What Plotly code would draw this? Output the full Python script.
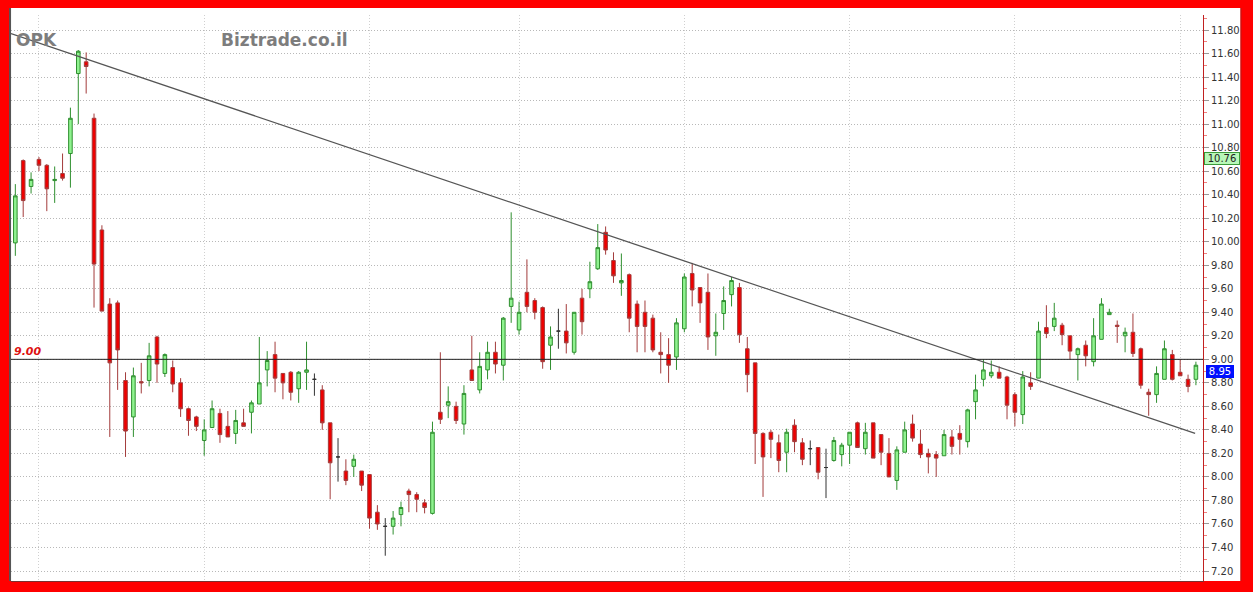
import plotly.graph_objects as go

# ---- data (daily OHLC) ----
opens = [9.99,10.69,10.47,10.70,10.65,10.52,10.58,10.75,11.43,11.53,
         11.05,10.10,9.47,9.48,8.82,8.51,8.81,8.82,9.19,8.88,
         8.93,8.80,8.58,8.51,8.31,8.42,8.54,8.43,8.37,8.46,
         8.55,8.62,8.91,9.04,8.88,8.89,8.75,8.89,8.83,8.74,
         8.46,8.17,8.05,8.09,8.05,8.02,7.70,7.58,7.58,7.68,
         7.88,7.85,7.78,7.69,8.55,8.61,8.60,8.45,8.91,8.74,
         8.91,9.06,8.95,9.45,9.25,9.57,9.50,9.44,9.12,9.24,
         9.24,9.06,9.52,9.60,9.77,10.08,9.84,9.65,9.72,9.47,
         9.40,9.35,9.06,9.04,9.02,9.26,9.73,9.61,9.57,9.20,
         9.39,9.55,9.61,9.09,8.97,8.37,8.38,8.29,8.21,8.44,
         8.29,8.24,8.25,8.08,8.14,8.19,8.27,8.46,8.24,8.46,
         8.36,8.20,7.97,8.21,8.45,8.28,8.20,8.19,8.18,8.34,
         8.37,8.30,8.64,8.83,8.86,8.89,8.85,8.70,8.53,8.80,
         8.84,9.27,9.28,9.29,9.20,9.04,9.12,8.98,9.17,9.38,
         9.29,9.20,9.23,9.09,8.72,8.70,8.83,9.04,8.89,8.83,
         8.83]
highs = [10.49,10.70,10.59,10.72,10.66,10.64,10.75,11.14,11.63,11.61,
         11.09,10.14,9.52,9.50,8.89,8.93,8.97,9.14,9.20,9.05,
         8.99,8.84,8.59,8.52,8.49,8.65,8.58,8.56,8.57,8.58,
         8.65,9.19,9.07,9.15,8.88,8.90,8.90,9.15,8.88,8.78,
         8.46,8.33,8.15,8.19,8.05,8.02,7.76,7.65,7.71,7.79,
         7.90,7.87,7.81,8.47,9.06,8.77,8.64,8.78,9.20,9.06,
         9.15,9.15,9.36,10.25,9.49,9.85,9.52,9.45,9.28,9.43,
         9.47,9.40,9.60,9.83,10.15,10.13,9.91,9.90,9.73,9.50,
         9.50,9.38,9.23,9.18,9.35,9.73,9.82,9.61,9.73,9.39,
         9.62,9.70,9.65,9.19,8.97,8.38,8.40,8.36,8.41,8.49,
         8.33,8.31,8.25,8.24,8.34,8.29,8.38,8.47,8.46,8.46,
         8.36,8.33,8.26,8.47,8.53,8.40,8.24,8.22,8.40,8.40,
         8.44,8.58,8.87,9.00,8.99,8.94,8.86,8.72,8.90,8.89,
         9.32,9.46,9.48,9.31,9.20,9.10,9.16,9.35,9.52,9.43,
         9.33,9.27,9.39,9.10,8.75,8.94,9.16,9.08,9.00,8.87,
         8.98]
lows = [9.88,10.21,10.41,10.60,10.26,10.33,10.52,10.46,11.00,11.26,
        9.44,9.41,8.34,8.74,8.17,8.34,8.71,8.77,8.80,8.85,
        8.72,8.51,8.35,8.39,8.18,8.42,8.29,8.34,8.28,8.43,
        8.37,8.62,8.77,8.72,8.66,8.65,8.63,8.74,8.69,8.40,
        7.81,7.96,7.93,8.00,7.88,7.56,7.55,7.33,7.51,7.58,
        7.70,7.70,7.69,7.68,8.45,8.50,8.45,8.36,8.82,8.71,
        8.83,8.88,8.82,9.31,9.21,9.40,9.34,8.92,8.91,9.09,
        9.05,9.04,9.21,9.52,9.76,9.89,9.65,9.54,9.23,9.06,
        9.06,9.06,8.88,8.80,8.91,9.23,9.45,9.31,9.08,9.03,
        9.25,9.45,9.14,8.72,8.11,7.83,8.16,8.04,8.04,8.21,
        8.10,8.10,7.98,7.82,8.13,8.09,8.11,8.25,8.19,8.16,
        8.10,8.00,7.89,8.21,8.30,8.16,8.03,8.00,8.18,8.19,
        8.19,8.25,8.49,8.77,8.84,8.84,8.49,8.43,8.45,8.74,
        8.84,9.18,9.24,9.12,9.00,8.82,8.94,8.94,9.17,9.38,
        9.14,9.06,9.02,8.75,8.52,8.63,8.83,8.82,8.86,8.72,
        8.78]
closes = [10.39,10.35,10.53,10.65,10.45,10.53,10.54,11.05,11.62,11.49,
          9.81,9.41,8.97,9.08,8.39,8.86,8.80,9.03,8.96,9.04,
          8.79,8.58,8.48,8.43,8.40,8.58,8.36,8.34,8.48,8.43,
          8.63,8.80,8.99,8.84,8.80,8.72,8.89,8.91,8.83,8.46,
          8.12,8.17,7.97,8.15,7.93,7.65,7.60,7.58,7.65,7.74,
          7.85,7.81,7.74,8.38,8.49,8.64,8.48,8.71,8.82,8.94,
          9.06,8.96,9.35,9.52,9.40,9.45,9.40,8.98,9.19,9.24,
          9.14,9.40,9.32,9.66,9.95,9.93,9.71,9.67,9.35,9.28,
          9.28,9.08,9.04,8.95,9.31,9.70,9.59,9.48,9.19,9.23,
          9.50,9.67,9.21,8.87,8.37,8.17,8.32,8.14,8.38,8.30,
          8.15,8.24,8.04,8.08,8.31,8.27,8.38,8.25,8.38,8.16,
          8.21,8.00,8.23,8.40,8.33,8.19,8.17,8.16,8.36,8.26,
          8.32,8.57,8.74,8.91,8.89,8.84,8.61,8.55,8.85,8.77,
          9.24,9.22,9.35,9.21,9.07,9.09,9.03,9.20,9.47,9.40,
          9.28,9.23,9.05,8.78,8.70,8.88,9.09,8.83,8.86,8.77,
          8.95]
month_starts = [3, 24, 45, 64, 85, 106, 127, 148]
y_ticks = [7.20, 7.40, 7.60, 7.80, 8.00, 8.20, 8.40, 8.60, 8.80, 9.00, 9.20,
           9.40, 9.60, 9.80, 10.00, 10.20, 10.40, 10.60, 10.80, 11.00, 11.20,
           11.40, 11.60, 11.80, 12.00]
trend_x = [-0.55, 149.9]
trend_y = [11.77, 8.37]
level = 9.00
marker_green = 10.76
last_price = 8.95

idx = list(range(len(opens)))
norm = [i for i in idx if opens[i] != closes[i]]
doji = [i for i in idx if opens[i] == closes[i]]

fig = go.Figure()
fig.add_trace(go.Candlestick(
    x=norm,
    open=[opens[i] for i in norm], high=[highs[i] for i in norm],
    low=[lows[i] for i in norm], close=[closes[i] for i in norm],
    increasing=dict(fillcolor="#8ff28f", line=dict(color="#2f8f2f", width=1)),
    decreasing=dict(fillcolor="#ee0000", line=dict(color="#a33b3b", width=1)),
    whiskerwidth=0, showlegend=False, hoverinfo="skip"))
fig.add_trace(go.Candlestick(
    x=doji,
    open=[opens[i] for i in doji], high=[highs[i] for i in doji],
    low=[lows[i] for i in doji], close=[closes[i] for i in doji],
    increasing=dict(fillcolor="#222222", line=dict(color="#333333", width=1)),
    decreasing=dict(fillcolor="#222222", line=dict(color="#333333", width=1)),
    whiskerwidth=0, showlegend=False, hoverinfo="skip"))
fig.add_trace(go.Scatter(x=trend_x, y=trend_y, mode="lines",
                         line=dict(color="#555555", width=1.3),
                         showlegend=False, hoverinfo="skip"))

W, H = 1253, 592
L, R, T, B = 11, 50, 15, 11
pw = W - L - R
ph = H - T - B

shapes = [
    dict(type="rect", xref="paper", yref="paper", x0=0, x1=(1241 - L) / pw,
         y0=0, y1=(H - 8 - B) / ph, fillcolor="white", line=dict(width=0), layer="below"),
    dict(type="line", xref="paper", yref="y", x0=0, x1=1, y0=level, y1=level,
         line=dict(color="#222222", width=1)),
    dict(type="line", xref="paper", yref="paper", x0=-0.0008, x1=-0.0008, y0=0, y1=(H - 8 - B) / ph,
         line=dict(color="#555555", width=2)),
    dict(type="line", xref="paper", yref="paper", x0=(1241 - L) / pw, x1=(1241 - L) / pw,
         y0=0, y1=(H - 8 - B) / ph, line=dict(color="#d01010", width=1.5)),
]

annotations = [
    dict(xref="paper", yref="paper", x=(14 - L) / pw, y=1 - (40 - T) / ph, xanchor="left",
         yanchor="middle", text="<b>OPK</b>", showarrow=False,
         font=dict(family="DejaVu Sans", size=17, color="#7d7d7d")),
    dict(xref="paper", yref="paper", x=(219 - L) / pw, y=1 - (40 - T) / ph, xanchor="left",
         yanchor="middle", text="<b>Biztrade.co.il</b>", showarrow=False,
         font=dict(family="DejaVu Sans", size=17, color="#7d7d7d")),
    dict(xref="paper", yref="y", x=0.001, y=level, xanchor="left", yanchor="bottom",
         text="<b><i>9.00</i></b>", showarrow=False, yshift=-1,
         font=dict(family="DejaVu Sans", size=11, color="#dd1111")),
    dict(xref="paper", yref="y", x=(1204 - L) / pw, y=marker_green, xanchor="left",
         yanchor="top", text=f"{marker_green:.2f}", showarrow=False, width=34,
         bgcolor="#b8f7b8", bordercolor="#3a9a3a", borderwidth=1, borderpad=0,
         font=dict(family="DejaVu Sans", size=10, color="#222222")),
    dict(xref="paper", yref="y", x=(1206 - L) / pw, y=last_price, xanchor="left",
         yanchor="top", text=f"{last_price:.2f}", showarrow=False, width=26,
         bgcolor="#0010ff", bordercolor="#0010ff", borderwidth=1, borderpad=0,
         font=dict(family="DejaVu Sans", size=10, color="#ffffff")),
]

fig.update_layout(
    width=W, height=H,
    margin=dict(l=L, r=R, t=T, b=B, pad=0),
    paper_bgcolor="#ff0000", plot_bgcolor="white",
    boxgap=0.35,
    shapes=shapes, annotations=annotations,
    xaxis=dict(range=[-0.55, 150.9], tickvals=month_starts, showticklabels=False,
               ticks="", showgrid=True, gridcolor="#d0d0d0", griddash="1px,2px", gridwidth=1,
               rangeslider=dict(visible=False), zeroline=False,
               showline=True, linecolor="#7a3030", linewidth=1, mirror=False),
    yaxis=dict(side="right", range=[7.115, 11.928], tickvals=y_ticks,
               ticktext=[f"{v:.2f}" for v in y_ticks],
               tickfont=dict(family="DejaVu Sans", size=10, color="#333333"),
               ticks="outside", ticklen=5, tickcolor="#999999",
               showgrid=True, gridcolor="#b8b8b8", griddash="1px,2px", gridwidth=1,
               zeroline=False, showline=True, linecolor="#c02020", linewidth=1,
               minor=dict(ticks="outside", ticklen=3, tickcolor="#f08080", dtick=0.1,
                          showgrid=False)),
    font=dict(family="DejaVu Sans"),
)

fig.write_html("out.html", config={"displayModeBar": False},
               post_script="document.body.style.margin='0';document.body.style.overflow='hidden';")
